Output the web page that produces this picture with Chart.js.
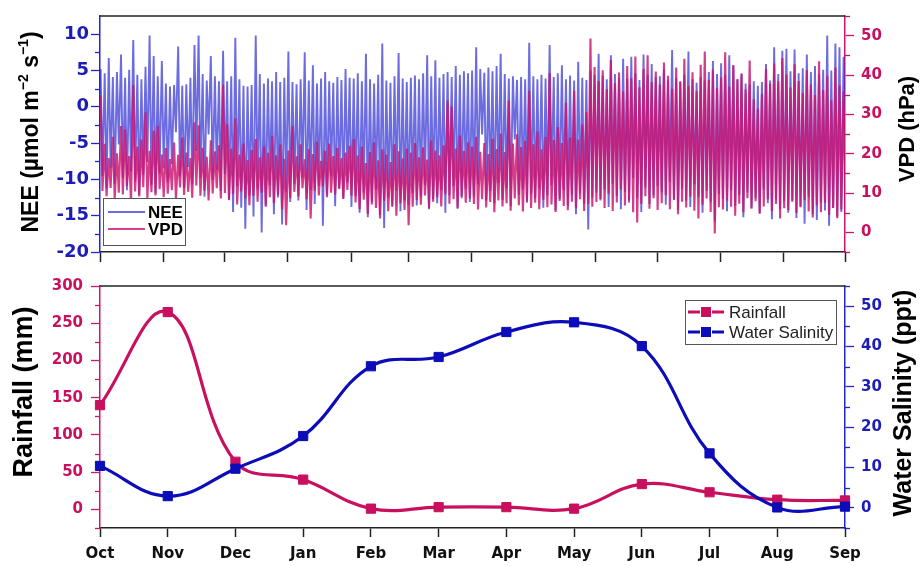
<!DOCTYPE html>
<html><head><meta charset="utf-8">
<script src="https://cdn.jsdelivr.net/npm/chart.js@4.4.0/dist/chart.umd.min.js"></script>
<style>
html,body{margin:0;padding:0;background:#fff;}
#wrap{position:relative;width:921px;height:566px;overflow:hidden;background:#fff;}
#c1{position:absolute;left:0;top:0;}
#c2{position:absolute;left:0;top:268px;}
</style></head><body>
<div id="wrap"><canvas id="c1" width="921" height="268"></canvas><canvas id="c2" width="921" height="298"></canvas></div>
<script>
// ---------- data ----------
const MONTHS = ['Oct','Nov','Dec','Jan','Feb','Mar','Apr','May','Jun','Jul','Aug','Sep'];
const MONTH_START_DAYS = [0,31,61,92,123,151,182,212,243,273,304,335,365];
const NEE_TICKS = [-20,-15,-10,-5,0,5,10];
const NEE_MINOR = [-17.5,-12.5,-7.5,-2.5,2.5,7.5];
const VPD_TICKS = [0,10,20,30,40,50];
const VPD_MINOR = [-5,5,15,25,35,45,55];
const RAIN_TICKS = [0,50,100,150,200,250,300];
const RAIN_MINOR = [-25,25,75,125,175,225,275];
const SAL_TICKS = [0,10,20,30,40,50];
const SAL_MINOR = [-5,5,15,25,35,45,55];

const RAINFALL = [140,265,64,40,1,3,3,1,34,23,13,12];
const SALINITY = [10.4,2.9,9.7,17.8,35.1,37.4,43.6,46.0,40.1,13.5,0.1,0.3];

// two-day blocks (Oct 1 -> Sep 30): daily high / low envelopes
const NEE_HI = [
 5.2,4.6,6.7,4.1,4.8,7.2,4.0,5.1,9.2,4.4,3.8,5.5,9.8,7.0,4.2,6.3,
 3.2,2.8,3.0,8.3,2.9,3.1,4.0,8.5,9.8,4.5,3.6,7.0,4.2,3.5,7.7,
 3.5,4.2,9.5,3.8,2.9,2.8,3.0,9.8,4.5,3.2,3.9,3.5,4.8,3.4,4.0,
 7.6,3.4,3.1,3.8,7.5,3.6,5.7,3.2,3.9,4.8,3.5,3.3,4.1,3.7,5.2,4.0,
 3.9,4.6,3.5,7.3,3.8,3.2,4.4,8.7,3.6,3.3,4.2,7.4,3.9,3.4,
 4.0,4.3,3.8,4.6,7.1,4.2,6.4,4.0,4.5,4.8,4.1,5.6,4.4,4.9,4.6,
 5.0,8.2,5.2,4.7,5.4,4.9,5.6,7.3,4.5,3.9,4.2,3.7,4.1,3.8,8.8,
 4.2,3.8,4.4,3.9,8.5,4.1,4.6,5.7,3.8,4.3,3.6,6.2,4.0,3.7,5.0,4.4,
 7.3,4.3,3.8,7.1,4.5,4.0,6.6,3.9,6.9,4.6,3.7,7.2,4.4,5.9,4.1,
 4.2,5.1,3.6,7.8,4.0,3.5,4.4,7.6,3.8,3.3,4.1,3.6,4.8,6.3,4.5,
 6.0,4.4,7.1,5.7,3.8,4.6,3.2,3.0,3.5,2.9,3.4,5.9,3.6,8.2,4.5,7.7,
 8.0,4.9,7.9,4.6,5.3,7.2,4.8,5.6,4.5,5.1,9.8,5.0,8.7,8.2,6.9
];
const NEE_LO = [
 -9.5,-11.2,-8.4,-10.6,-5.2,-9.8,-11.5,-8.9,-10.3,-12.1,-9.4,-7.6,-10.8,-11.9,-9.2,-8.5,
 -10.4,-7.9,-3.5,-9.6,-11.2,-8.3,-10.7,-6.1,-9.8,-12.4,-3.8,-10.1,-8.7,-11.6,-9.3,
 -12.8,-14.5,-10.9,-13.9,-16.8,-12.2,-15.1,-11.4,-17.3,-13.6,-10.8,-14.8,-12.5,-16.2,-11.7,
 -13.1,-10.6,-12.9,-9.8,-14.2,-11.5,-13.4,-10.9,-16.4,-12.1,-9.6,-13.7,-11.2,-12.6,-10.4,-13.8,
 -12.3,-14.6,-11.8,-15.2,-13.1,-11.4,-14.9,-16.7,-12.5,-13.8,-11.6,-14.4,-12.9,-13.5,
 -11.9,-13.6,-12.4,-10.8,-14.1,-12.7,-13.3,-11.5,-14.6,-12.2,-10.9,-13.9,-12.6,-11.3,-13.1,
 -12.4,-10.7,-3.8,-12.9,-11.6,-13.3,-10.5,-12.8,-11.2,-13.7,-4.5,-12.1,-11.4,-13.2,-12.0,
 -12.6,-11.3,-13.9,-12.2,-10.8,-14.3,-12.7,-11.5,-13.6,-12.1,-14.8,-11.9,-13.4,-16.9,-12.5,-11.8,
 -12.9,-11.4,-13.8,-10.6,-12.3,-14.1,-11.7,-13.2,-9.8,-12.6,-14.5,-11.1,-13.4,-12.2,-10.9,
 -11.8,-13.5,-10.4,-12.7,-14.2,-11.3,-12.9,-13.8,-10.7,-12.4,-14.6,-11.6,-13.1,-15.8,-12.0,
 -12.7,-14.4,-11.5,-13.6,-12.1,-15.2,-11.8,-13.9,-12.6,-14.7,-11.4,-13.3,-15.5,-12.8,-14.1,-13.0,
 -14.6,-12.9,-15.3,-13.7,-16.1,-12.4,-14.8,-15.6,-13.2,-14.3,-16.4,-13.9,-15.1,-14.5,-12.8
];
const VPD_HI = [
 34.7,22.5,18.9,24.3,20.1,27.0,26.2,19.4,37.5,21.8,23.6,30.5,20.7,25.9,27.0,19.8,
 21.4,18.6,22.8,19.7,24.1,20.3,18.9,28.0,27.2,21.5,19.2,23.4,20.6,22.1,37.5,
 27.5,21.3,29.0,19.8,22.6,18.4,20.9,23.7,19.1,21.8,20.2,24.5,19.6,22.3,18.7,
 20.8,27.0,19.3,22.4,18.6,21.2,19.9,23.1,18.2,20.7,22.6,19.4,21.5,18.9,20.3,22.0,
 23.7,19.5,21.8,17.6,20.4,22.9,18.3,21.1,19.8,17.9,22.4,20.6,18.8,21.3,
 20.2,22.7,19.1,21.6,18.5,23.4,20.8,19.6,22.1,33.5,32.0,21.3,24.6,20.7,22.9,
 21.8,24.3,20.5,22.7,19.9,23.8,21.2,25.1,20.4,33.5,22.6,24.9,21.7,23.3,36.0,
 22.4,25.6,21.1,24.2,40.5,23.5,26.8,22.7,33.0,24.1,36.0,23.6,27.4,30.5,49.3,42.0,
 38.5,41.2,36.4,43.8,37.9,40.6,35.8,42.3,39.1,44.7,36.9,41.5,45.0,38.2,40.9,
 37.6,43.2,39.8,36.5,41.9,38.3,44.1,37.2,40.7,35.9,42.6,46.0,38.8,41.3,36.7,
 39.4,45.8,37.1,42.5,38.9,40.2,36.3,43.7,33.8,31.5,35.2,41.6,37.8,42.9,38.4,44.3,
 40.1,36.8,42.7,38.5,35.4,41.2,37.6,34.9,43.5,36.2,39.8,33.6,41.9,37.3,35.8
];
const VPD_LO = [
 10.5,9.2,11.3,8.4,10.1,9.6,11.8,7.2,10.4,9.1,11.5,8.7,10.2,9.4,11.0,8.9,
 9.8,10.7,8.3,11.4,9.5,10.3,8.8,11.9,9.3,10.6,8.1,9.9,11.2,8.6,10.0,
 8.2,9.7,7.1,10.4,8.6,6.9,9.3,7.8,10.1,6.5,8.9,7.4,9.5,5.8,1.8,
 8.7,10.3,9.1,11.2,8.4,3.5,10.6,9.4,11.7,8.9,10.1,9.6,11.0,8.5,10.8,9.3,
 7.6,5.9,8.3,4.7,7.1,6.2,3.5,8.0,5.4,6.8,4.2,7.4,5.7,1.8,
 6.5,8.2,7.0,9.4,6.1,7.8,8.9,6.6,9.7,7.3,8.4,6.0,9.1,7.5,8.6,
 7.2,5.8,8.4,6.3,7.7,5.1,8.1,6.6,7.4,5.5,8.6,6.9,5.3,7.9,6.2,
 7.5,5.9,8.3,6.4,7.1,5.2,8.0,6.7,5.6,7.8,6.1,8.4,5.4,7.3,6.5,7.7,
 8.5,6.2,9.8,5.4,7.6,10.9,6.8,8.1,5.1,2.5,7.3,9.2,6.0,8.7,5.7,
 7.4,9.5,5.9,8.2,4.6,7.8,6.3,9.1,5.5,3.5,7.0,8.6,5.2,-0.3,6.4,
 5.8,8.1,6.5,4.2,7.3,5.1,8.7,6.0,7.9,4.8,6.6,8.4,5.4,7.2,3.5,6.1,
 5.6,7.8,4.9,6.4,8.2,5.3,3.8,6.9,5.1,7.5,4.4,6.2,3.6,5.8,4.7
];

// ---------- build ----------
function zigzag(hi, lo){
  const out = [];
  for (let i = 0; i < hi.length; i++){
    out.push({x: i*2 + 0.3, y: hi[i]});
    out.push({x: i*2 + 1.2, y: lo[i]});
  }
  return out;
}
const BLUE_T = '#1c1cb8', BLUE_A = '#2424d0';
const MAG_T = '#c8105e', MAG_A = '#d0146c';
const TICK_FONT_L = {family:'DejaVu Sans', weight:'bold', size:18};
const TICK_FONT = {family:'DejaVu Sans', weight:'bold', size:15};

function makeDecor(cfg){
  return {
    id: 'decor',
    afterDraw(chart){
      const ctx = chart.ctx, a = chart.chartArea;
      ctx.save();
      ctx.strokeStyle = '#222'; ctx.lineWidth = 1.5;
      ctx.beginPath(); ctx.moveTo(a.left, a.top); ctx.lineTo(a.right, a.top); ctx.stroke();
      cfg.minor.forEach(m => {
        const s = chart.scales[m.axis];
        ctx.strokeStyle = m.color; ctx.lineWidth = 1.3;
        m.values.forEach(v => {
          const p = Math.round(s.getPixelForValue(v)) + 0.5;
          ctx.beginPath();
          if (s.position === 'left'){ ctx.moveTo(a.left, p); ctx.lineTo(a.left - 5, p); }
          else { ctx.moveTo(a.right, p); ctx.lineTo(a.right + 5, p); }
          ctx.stroke();
        });
      });
      cfg.titles.forEach(t => {
        ctx.save();
        ctx.translate(t.x, t.y);
        ctx.rotate(-Math.PI/2);
        ctx.fillStyle = '#000';
        ctx.textBaseline = 'alphabetic';
        ctx.textAlign = 'left';
        const main = 'bold ' + t.size + 'px "Liberation Sans", Arial, sans-serif';
        const sup = 'bold ' + Math.round(t.size*0.62) + 'px "Liberation Sans", Arial, sans-serif';
        let w = 0;
        t.parts.forEach(p => { ctx.font = p.sup ? sup : main; w += ctx.measureText(p.t).width; });
        let x = -w/2;
        t.parts.forEach(p => {
          ctx.font = p.sup ? sup : main;
          ctx.fillText(p.t, x, p.sup ? -t.size*0.42 : 0);
          x += ctx.measureText(p.t).width;
        });
        ctx.restore();
      });
      cfg.legend(ctx);
      ctx.restore();
    }
  };
}

// ---------- top chart ----------
new Chart(document.getElementById('c1'), {
  type: 'line',
  data: { datasets: [
    { label:'NEE', data: zigzag(NEE_HI, NEE_LO), yAxisID:'y', borderColor:'rgba(38,38,210,0.68)', borderWidth:1.9, pointRadius:0, tension:0, order:1 },
    { label:'VPD', data: zigzag(VPD_HI, VPD_LO), yAxisID:'y1', borderColor:'rgba(204,18,110,0.82)', borderWidth:2.1, pointRadius:0, tension:0, order:0 }
  ]},
  options: {
    responsive:false, animation:false, devicePixelRatio:1,
    layout:{ padding:{ top:12, left:0, right:0, bottom:0 } },
    plugins:{ legend:{display:false}, tooltip:{enabled:false} },
    scales:{
      x:{ type:'linear', min:0, max:365,
          afterBuildTicks: s => { s.ticks = MONTH_START_DAYS.map(v => ({value:v})); },
          ticks:{ display:false },
          grid:{ drawOnChartArea:false, tickLength:10, color:'#222', tickWidth:1.5 },
          border:{ color:'#222', width:1.5 },
          afterFit: s => { s.height = 16; } },
      y:{ position:'left', min:-20, max:12.5,
          afterBuildTicks: s => { s.ticks = NEE_TICKS.map(v => ({value:v})); },
          ticks:{ color:BLUE_T, font:TICK_FONT_L, padding:2 },
          grid:{ drawOnChartArea:false, tickLength:9, color:BLUE_A, tickWidth:1.3 },
          border:{ color:BLUE_A, width:1.5 },
          afterFit: s => { s.width = 100; } },
      y1:{ position:'right', min:-5, max:55,
          afterBuildTicks: s => { s.ticks = VPD_TICKS.map(v => ({value:v})); },
          ticks:{ color:MAG_T, font:TICK_FONT, padding:7 },
          grid:{ drawOnChartArea:false, tickLength:9, color:MAG_A, tickWidth:1.3 },
          border:{ color:MAG_A, width:1.5 },
          afterFit: s => { s.width = 76; } }
    }
  },
  plugins:[ makeDecor({
    minor:[ {axis:'y', values:NEE_MINOR, color:BLUE_A}, {axis:'y1', values:VPD_MINOR, color:MAG_A} ],
    titles:[
      {x:38, y:132, size:23, parts:[{t:'NEE (µmol m'},{t:'−2',sup:true},{t:' s'},{t:'−1',sup:true},{t:')'}]},
      {x:914, y:129, size:22, parts:[{t:'VPD (hPa)'}]}
    ],
    legend(ctx){
      ctx.fillStyle = '#fff'; ctx.fillRect(103,198,82,47);
      ctx.strokeStyle = '#555'; ctx.lineWidth = 1; ctx.strokeRect(103.5,198.5,82,47);
      ctx.lineWidth = 2;
      ctx.strokeStyle = 'rgba(70,70,225,0.8)'; ctx.beginPath(); ctx.moveTo(108,212); ctx.lineTo(145,212); ctx.stroke();
      ctx.strokeStyle = 'rgba(208,30,115,0.85)'; ctx.beginPath(); ctx.moveTo(108,229); ctx.lineTo(145,229); ctx.stroke();
      ctx.fillStyle = '#000'; ctx.font = 'bold 17px "Liberation Sans", Arial, sans-serif';
      ctx.textBaseline = 'middle'; ctx.textAlign = 'left';
      ctx.fillText('NEE', 148, 213); ctx.fillText('VPD', 148, 230);
    }
  }) ]
});

// ---------- bottom chart ----------
const RAIN_C = '#c8105e', SAL_C = '#0c0cb8';
new Chart(document.getElementById('c2'), {
  type: 'line',
  data: { labels: MONTHS, datasets: [
    { label:'Rainfall', data: RAINFALL, yAxisID:'y', borderColor:RAIN_C, backgroundColor:RAIN_C, borderWidth:3.2, tension:0.4,
      pointStyle:'rect', pointRadius:6.5, pointBorderWidth:1, pointBorderColor:RAIN_C, pointBackgroundColor:RAIN_C, order:1 },
    { label:'Water Salinity', data: SALINITY, yAxisID:'y1', borderColor:SAL_C, backgroundColor:SAL_C, borderWidth:3.2, tension:0.4,
      pointStyle:'rect', pointRadius:6.5, pointBorderWidth:1, pointBorderColor:SAL_C, pointBackgroundColor:SAL_C, order:0 }
  ]},
  options: {
    responsive:false, animation:false, devicePixelRatio:1,
    layout:{ padding:{ top:18, left:0, right:0, bottom:0 } },
    plugins:{ legend:{display:false}, tooltip:{enabled:false} },
    scales:{
      x:{ type:'category', offset:false,
          ticks:{ color:'#111', font:TICK_FONT, padding:8, maxRotation:0, autoSkip:false },
          grid:{ drawOnChartArea:false, tickLength:9, color:'#222', tickWidth:1.5 },
          border:{ color:'#222', width:1.5 },
          afterFit: s => { s.height = 38; } },
      y:{ position:'left', min:-25, max:300,
          afterBuildTicks: s => { s.ticks = RAIN_TICKS.map(v => ({value:v})); },
          ticks:{ color:MAG_T, font:TICK_FONT, padding:8 },
          grid:{ drawOnChartArea:false, tickLength:9, color:MAG_A, tickWidth:1.3 },
          border:{ color:MAG_A, width:1.5 },
          afterFit: s => { s.width = 100; } },
      y1:{ position:'right', min:-5, max:55,
          afterBuildTicks: s => { s.ticks = SAL_TICKS.map(v => ({value:v})); },
          ticks:{ color:BLUE_T, font:TICK_FONT, padding:7 },
          grid:{ drawOnChartArea:false, tickLength:9, color:BLUE_A, tickWidth:1.3 },
          border:{ color:BLUE_A, width:1.5 },
          afterFit: s => { s.width = 76; } }
    }
  },
  plugins:[ makeDecor({
    minor:[ {axis:'y', values:RAIN_MINOR, color:MAG_A}, {axis:'y1', values:SAL_MINOR, color:BLUE_A} ],
    titles:[
      {x:32, y:124, size:27, parts:[{t:'Rainfall (mm)'}]},
      {x:911, y:135, size:25, parts:[{t:'Water Salinity (ppt)'}]}
    ],
    legend(ctx){
      ctx.fillStyle = '#fff'; ctx.fillRect(685,32,151,44);
      ctx.strokeStyle = '#555'; ctx.lineWidth = 1; ctx.strokeRect(685.5,32.5,151,44);
      const rows = [{y:44, c:RAIN_C, t:'Rainfall'}, {y:64, c:SAL_C, t:'Water Salinity'}];
      rows.forEach(r => {
        ctx.strokeStyle = r.c; ctx.fillStyle = r.c; ctx.lineWidth = 3;
        ctx.beginPath(); ctx.moveTo(688, r.y); ctx.lineTo(700, r.y); ctx.moveTo(712, r.y); ctx.lineTo(724, r.y); ctx.stroke();
        ctx.fillRect(701, r.y-5, 10, 10);
        ctx.fillStyle = '#222'; ctx.font = '17px "Liberation Sans", Arial, sans-serif';
        ctx.textBaseline = 'middle'; ctx.textAlign = 'left';
        ctx.fillText(r.t, 729, r.y+1);
      });
    }
  }) ]
});
</script>
</body></html>
